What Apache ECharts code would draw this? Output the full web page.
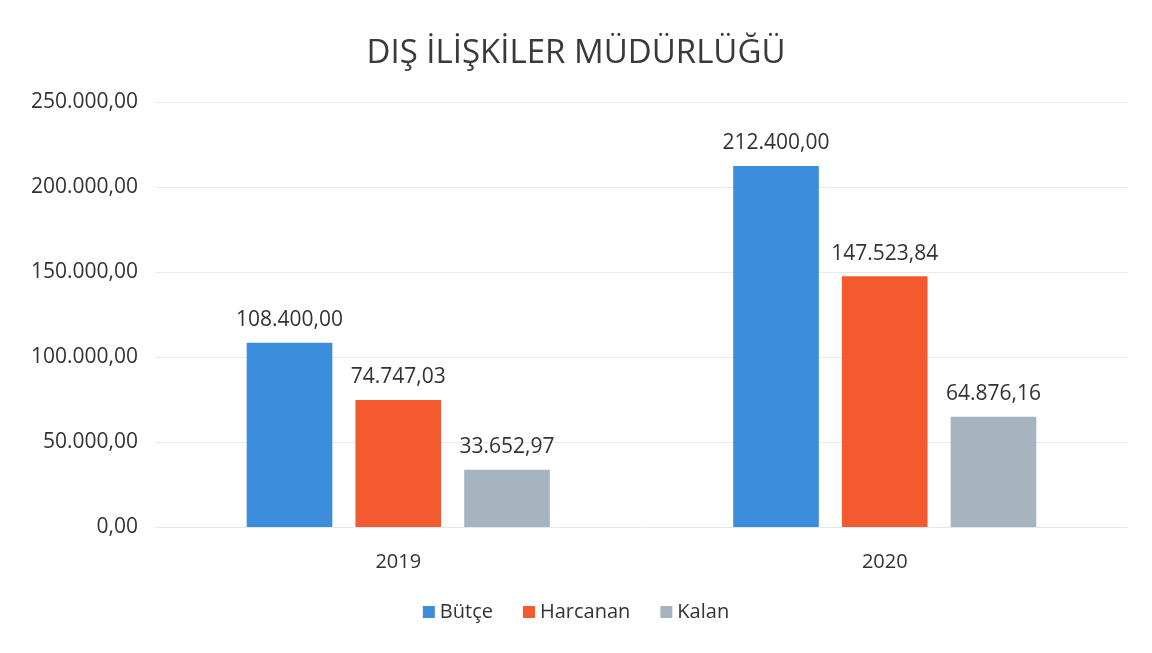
<!DOCTYPE html>
<html lang="tr">
<head>
<meta charset="utf-8" />
<title>Dış İlişkiler Müdürlüğü</title>
<script src="https://cdn.jsdelivr.net/npm/echarts@6/dist/echarts.min.js"></script>
<style>
  html, body { margin: 0; padding: 0; background: #fff; }
  #box { width: 1152px; height: 653px; }
</style>
</head>
<body>
<div id="box"></div>
<script>
    // veriler
    var years = ['2019', '2020'];
    var butce = [108400.00, 212400.00];
    var harcanan = [74747.03, 147523.84];
    var kalan = [33652.97, 64876.16];

    // 1234.5 -> 1.234,50
    function trFormat(v) {
        var parts = Number(v).toFixed(2).split('.');
        var intPart = parts[0].replace(/\B(?=(\d{3})+(?!\d))/g, '.');
        return intPart + ',' + parts[1];
    }

    var myChart = echarts.init(document.getElementById('box'));
    var fontName = '"Open Sans", "Noto Sans", sans-serif';
    var labelStyle = {
        show: true,
        position: 'top',
        distance: 12,
        fontSize: 21,
        color: '#333',
        fontFamily: fontName,
        formatter: function (p) { return trFormat(p.value); }
    };

    var option = {
        textStyle: { fontFamily: fontName },
        title: {
            text: 'DIŞ İLİŞKİLER MÜDÜRLÜĞÜ',
            left: 'center',
            top: 32,
            textStyle: { fontSize: 33, fontWeight: 'normal', color: '#3a3a3a', fontFamily: fontName }
        },
        legend: {
            bottom: 26,
            left: 'center',
            itemWidth: 12,
            itemHeight: 12,
            itemGap: 30,
            icon: 'rect',
            textStyle: { fontSize: 20, color: '#333', fontFamily: fontName },
            data: ['Bütçe', 'Harcanan', 'Kalan']
        },
        grid: {
            left: 155,
            right: 24,
            top: 102,
            bottom: 126,
            containLabel: false
        },
        xAxis: {
            type: 'category',
            data: years,
            axisLine: { show: true, lineStyle: { color: '#e3e8ef' } },
            axisTick: { show: false },
            axisLabel: { fontSize: 20, color: '#333', margin: 25 }
        },
        yAxis: {
            type: 'value',
            min: 0,
            max: 250000,
            interval: 50000,
            axisLine: { show: false },
            axisTick: { show: false },
            splitLine: { lineStyle: { color: '#e6ebf3' } },
            axisLabel: {
                fontSize: 21,
                color: '#333',
                margin: 17,
                formatter: function (v) { return trFormat(v); }
            }
        },
        series: [
            {
                name: 'Bütçe', type: 'bar', data: butce,
                barWidth: '17.6%', barGap: '27%',
                itemStyle: { color: '#3d8ddd' },
                label: labelStyle
            },
            {
                name: 'Harcanan', type: 'bar', data: harcanan,
                barWidth: '17.6%', barGap: '27%',
                itemStyle: { color: '#f45a2f' },
                label: labelStyle
            },
            {
                name: 'Kalan', type: 'bar', data: kalan,
                barWidth: '17.6%', barGap: '27%',
                itemStyle: { color: '#a6b4bf' },
                label: labelStyle
            }
        ]
    };

    myChart.setOption(option);
</script>
</body>
</html>
